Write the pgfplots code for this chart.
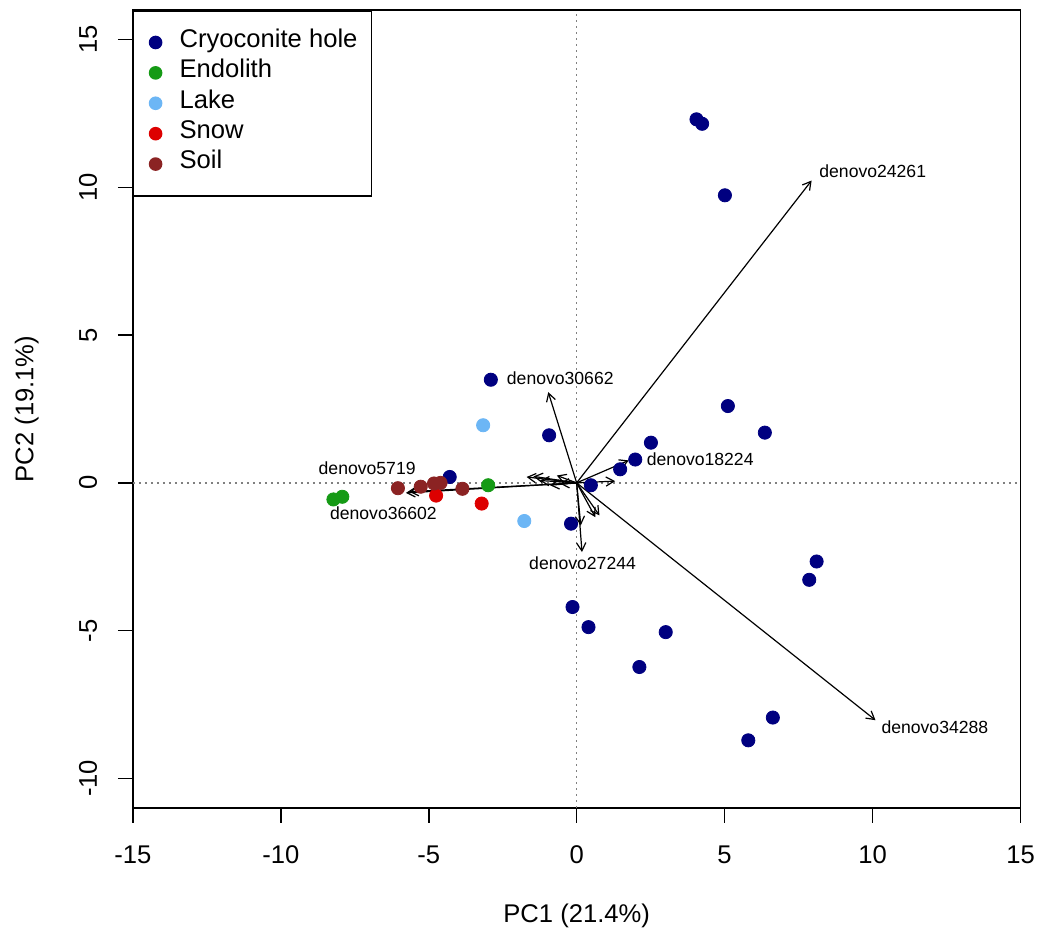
\documentclass[border=0pt]{standalone}
\usepackage{fontspec}
\setmainfont{Liberation Sans}
\usepackage{pgfplots}
\pgfplotsset{compat=1.18}
\usetikzlibrary{arrows.meta}
\definecolor{cryo}{HTML}{000080}
\definecolor{endo}{HTML}{159A15}
\definecolor{lake}{HTML}{6CB6F5}
\definecolor{snow}{HTML}{DD0000}
\definecolor{soil}{HTML}{8B2323}
\newcommand{\bigf}{\fontsize{12.8}{15}\selectfont}
\newcommand{\smallf}{\fontsize{8.8}{10}\selectfont}
\begin{document}
\begin{tikzpicture}
\begin{axis}[
  scale only axis, width=443.85pt, height=399pt,
  xmin=-15, xmax=15, ymin=-11, ymax=16,
  xtick={-15,-10,...,15}, ytick={-10,-5,...,15},
  tick pos=left, tick align=outside, major tick length=7.5pt,
  axis line style={line width=0.8pt},
  every tick/.style={line width=0.8pt, black},
  /pgf/number format/assume math mode=true,
  tick label style={font=\bigf},
  xticklabel style={anchor=base, yshift=-20.2pt},
  yticklabel style={rotate=90, anchor=base, yshift=10.4pt},
  xlabel={PC1 (21.4\%)}, ylabel={PC2 (19.1\%)},
  label style={font=\bigf},
  xlabel style={at={(rel axis cs:0.5,0)}, anchor=base, yshift=-57.4pt},
  ylabel style={at={(rel axis cs:0,0.5)}, anchor=base, yshift=49.75pt},
  legend cell align=left,
  legend style={at={(0,1)}, anchor=north west, draw=black, line width=0.8pt,
    font=\bigf, inner xsep=5pt, inner ysep=8.25pt,
    nodes={inner sep=2pt, text height=8pt, text depth=3.2pt},
    /tikz/every odd column/.append style={column sep=7pt}},
  legend image code/.code={\path[draw=none] (-6pt,0pt) -- (3pt,0pt);
    \path[#1, draw=none, mark size=3pt] plot coordinates {(0pt,0pt)};},
  pt/.style={only marks, mark=*, mark size=3.3pt, mark options={solid, draw=none, fill=#1}, color=#1},
  ld/.style={forget plot, black, solid, no markers, line width=0.6pt, -{Straight Barb[length=4pt,width=4.6pt]}},
  rl/.style={forget plot, gray, no markers, line width=0.7pt, dash pattern=on 1pt off 2pt},
]
% points
\addplot[pt=cryo] coordinates {
 (4.05,12.30) (4.24,12.15) (5.01,9.73) (5.11,2.60) (6.36,1.70) (2.51,1.36)
 (1.98,0.79) (1.47,0.46) (0.48,-0.08) (-0.19,-1.38) (8.11,-2.66) (7.86,-3.28)
 (-0.14,-4.20) (0.40,-4.88) (3.01,-5.05) (2.12,-6.23) (6.63,-7.94) (5.80,-8.71)
 (-2.90,3.49) (-0.93,1.61) (-4.29,0.20)};
\addlegendentry{Cryoconite hole}
\addplot[pt=endo] coordinates {
 (-2.99,-0.08) (-8.22,-0.56) (-7.92,-0.47)};
\addlegendentry{Endolith}
\addplot[pt=lake] coordinates {
 (-3.16,1.95) (-1.77,-1.29)};
\addlegendentry{Lake}
\addplot[pt=snow] coordinates {
 (-4.75,-0.43) (-3.21,-0.70)};
\addlegendentry{Snow}
\addplot[pt=soil] coordinates {
 (-6.04,-0.18) (-5.27,-0.13) (-4.82,-0.02) (-4.60,0.00) (-3.86,-0.20)};
\addlegendentry{Soil}
% reference lines
\addplot[rl] coordinates {(-15,0) (15,0)};
\addplot[rl] coordinates {(0,-11) (0,16)};
% loadings arrows
\addplot[ld] coordinates {(0,0) (7.94,10.23)};
\addplot[ld] coordinates {(0,0) (10.10,-8.03)};
\addplot[ld] coordinates {(0,0) (-0.96,3.07)};
\addplot[ld] coordinates {(0,0) (0.18,-2.34)};
\addplot[ld] coordinates {(0,0) (1.76,0.76)};
\addplot[ld] coordinates {(0,0) (-5.77,-0.34)};
\addplot[ld] coordinates {(0,0) (-5.65,-0.30)};
\addplot[ld] coordinates {(0,0) (1.30,0.06)};
\addplot[ld] coordinates {(0,0) (0.63,-1.16)};
\addplot[ld] coordinates {(0,0) (0.77,-1.10)};
\addplot[ld] coordinates {(0,0) (0.14,-1.44)};
\addplot[ld] coordinates {(0,0) (-1.69,0.20)};
\addplot[ld] coordinates {(0,0) (-1.46,0.22)};
\addplot[ld] coordinates {(0,0) (-1.24,0.08)};
\addplot[ld] coordinates {(0,0) (-0.90,-0.08)};
\addplot[ld] coordinates {(0,0) (-0.67,0.25)};
\addplot[ld] coordinates {(0,0) (-0.56,-0.03)};
% labels
\node[anchor=west, inner sep=0pt, font=\smallf] at (axis cs:8.19,10.54) {denovo24261};
\node[anchor=west, inner sep=0pt, font=\smallf] at (axis cs:10.29,-8.27) {denovo34288};
\node[anchor=west, inner sep=0pt, font=\smallf] at (axis cs:2.36,0.80) {denovo18224};
\node[anchor=west, inner sep=0pt, font=\smallf] at (axis cs:-2.37,3.54) {denovo30662};
\node[inner sep=0pt, font=\smallf] at (axis cs:0.20,-2.73) {denovo27244};
\node[inner sep=0pt, font=\smallf] at (axis cs:-7.08,0.48) {denovo5719};
\node[inner sep=0pt, font=\smallf] at (axis cs:-6.53,-1.04) {denovo36602};
\end{axis}
\pgfresetboundingbox
\path[use as bounding box] ([xshift=-66.4pt,yshift=-62.5pt]current axis.south west) rectangle ([xshift=9.75pt,yshift=5pt]current axis.north east);
\end{tikzpicture}
\end{document}
